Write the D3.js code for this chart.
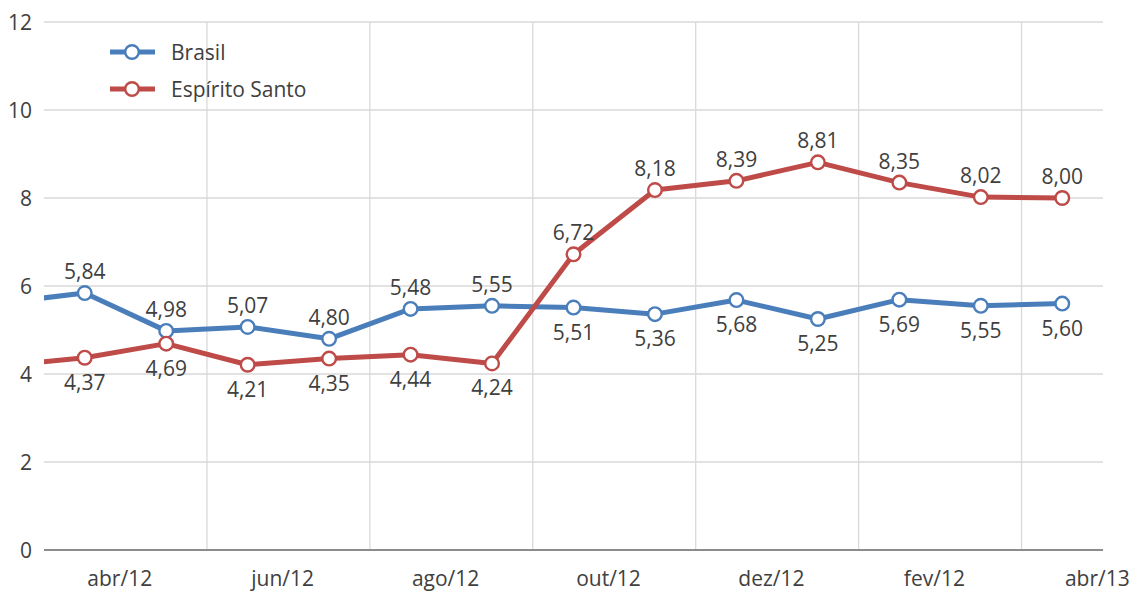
<!DOCTYPE html>
<html><head><meta charset="utf-8">
<script src="https://cdn.jsdelivr.net/npm/d3@7"></script>
<style>html,body{margin:0;padding:0;background:#fff;}svg{display:block;font-family:"Open Sans",sans-serif;}</style>
</head><body><svg id="c" width="1132" height="594"></svg>
<script>
// Month categories (index -1 = mar/12, partly off the left edge and clipped)
const months = ["mar/12","abr/12","mai/12","jun/12","jul/12","ago/12","set/12","out/12","nov/12","dez/12","jan/13","fev/12","mar/13","abr/13"];
const monthIndex = [-1,0,1,2,3,4,5,6,7,8,9,10,11,12];
const brasil = [5.62,5.84,4.98,5.07,4.80,5.48,5.55,5.51,5.36,5.68,5.25,5.69,5.55,5.60];
const espiritoSanto = [4.19,4.37,4.69,4.21,4.35,4.44,4.24,6.72,8.18,8.39,8.81,8.35,8.02,8.00];
// label placement: 1 = above, -1 = below
const brasilLabelPos = [0,1,1,1,1,1,1,-1,-1,-1,-1,-1,-1,-1];
const esLabelPos = [0,-1,-1,-1,-1,-1,-1,1,1,1,1,1,1,1];
const xTickLabels = ["abr/12","jun/12","ago/12","out/12","dez/12","fev/12","abr/13"];
const xTickIndex = [0,2,4,6,8,10,12];
const yTicks = [0,2,4,6,8,10,12];
const seriesNames = ["Brasil","Espírito Santo"];
const colors = ["#4a7ebb","#be4b48"];

const svg = d3.select("#c");
const L = 44, R = 1103, T = 22, B = 550;
const FS = 21;
const x = d3.scaleLinear().domain([-0.5, 12.5]).range([L, R]);
const y = d3.scaleLinear().domain([0, 12]).range([B, T]);
const fmt = v => d3.format(".2f")(v).replace(".", ",");

svg.append("defs").append("clipPath").attr("id","plot")
  .append("rect").attr("x",L).attr("y",0).attr("width",R-L).attr("height",594);

// horizontal gridlines
svg.append("g").selectAll("line").data(yTicks.filter(d=>d>0)).join("line")
  .attr("x1",L).attr("x2",R).attr("y1",d=>y(d)).attr("y2",d=>y(d))
  .attr("stroke","#d9d9d9").attr("stroke-width",1.3);
// vertical gridlines between every two months
const vGrid = [1.5,3.5,5.5,7.5,9.5,11.5];
svg.append("g").selectAll("line").data(vGrid).join("line")
  .attr("x1",d=>x(d)).attr("x2",d=>x(d)).attr("y1",T).attr("y2",B)
  .attr("stroke","#d9d9d9").attr("stroke-width",1.3);
// baseline axis
svg.append("line").attr("x1",L).attr("x2",R).attr("y1",y(0)).attr("y2",y(0))
  .attr("stroke","#8c8c8c").attr("stroke-width",1.8);

// y tick labels
svg.append("g").selectAll("text").data(yTicks).join("text")
  .attr("x",32).attr("y",d=>y(d)+8).attr("text-anchor","end")
  .attr("font-size",FS).attr("fill","#404040").text(d=>d);
// x tick labels
svg.append("g").selectAll("text").data(xTickIndex).join("text")
  .attr("x",(d)=>x(d+0.43)).attr("y",586).attr("text-anchor","middle")
  .attr("font-size",FS).attr("fill","#404040").text((d,i)=>xTickLabels[i]);

const series = [brasil, espiritoSanto];
const labelPos = [brasilLabelPos, esLabelPos];
const line = d3.line().x((d,i)=>x(monthIndex[i])).y(d=>y(d));
series.forEach((vals, s) => {
  const g = svg.append("g");
  g.append("path").datum(vals).attr("d",line).attr("fill","none")
    .attr("stroke",colors[s]).attr("stroke-width",5).attr("stroke-linejoin","round")
    .attr("clip-path","url(#plot)");
  const pts = vals.map((v,i)=>({v,i})).filter(d=>monthIndex[d.i]>=0);
  g.selectAll("circle").data(pts).join("circle")
    .attr("cx",d=>x(monthIndex[d.i])).attr("cy",d=>y(d.v)).attr("r",6.8)
    .attr("fill","#fff").attr("stroke",colors[s]).attr("stroke-width",2.4);
  g.selectAll("text").data(pts).join("text")
    .attr("x",d=>x(monthIndex[d.i]))
    .attr("y",d=>labelPos[s][d.i] > 0 ? y(d.v)-14 : y(d.v)+32)
    .attr("text-anchor","middle").attr("font-size",FS).attr("fill","#404040")
    .text(d=>fmt(d.v));
});

// legend
const lg = svg.append("g");
[52, 89].forEach((ly, s) => {
  lg.append("line").attr("x1",110).attr("x2",155).attr("y1",ly).attr("y2",ly)
    .attr("stroke",colors[s]).attr("stroke-width",5);
  lg.append("circle").attr("cx",132).attr("cy",ly).attr("r",6.8)
    .attr("fill","#fff").attr("stroke",colors[s]).attr("stroke-width",2.4);
  lg.append("text").attr("x",171).attr("y",ly+7.5).attr("font-size",FS)
    .attr("fill","#404040").text(seriesNames[s]);
});
</script></body></html>
